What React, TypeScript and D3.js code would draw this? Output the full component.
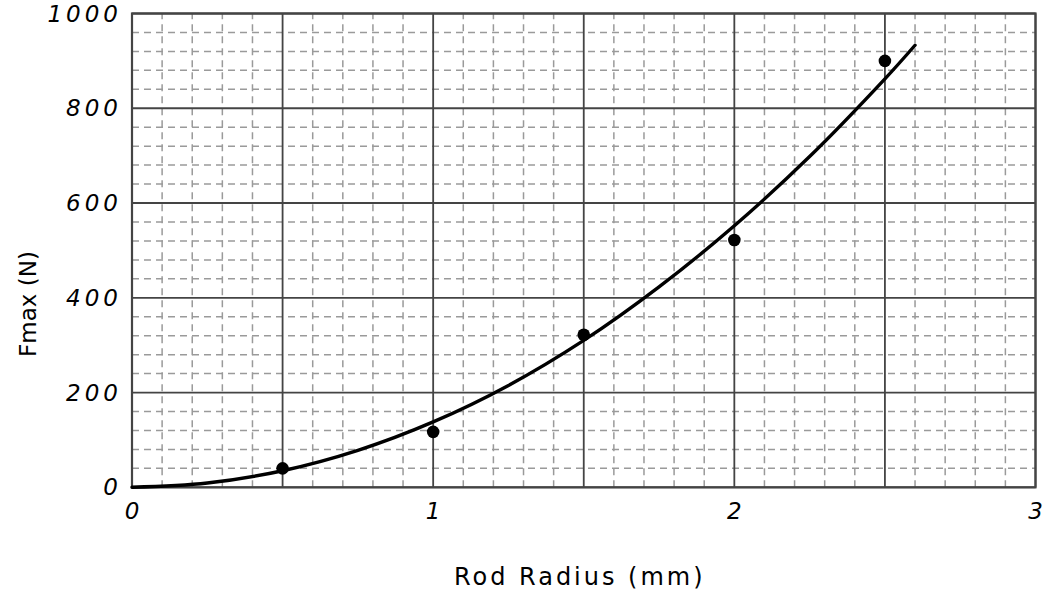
import React from "react";
import * as d3 from "d3";

const pointX = [0.5, 1.0, 1.5, 2.0, 2.5];
const pointY = [40, 117, 322, 522, 900];

const curveX = [0, 0.25, 0.5, 0.75, 1.0, 1.25, 1.5, 1.75, 2.0, 2.25, 2.5, 2.6];
const curveY = [0, 9, 35, 78, 138, 215, 310, 423, 552, 698, 862, 933];

const xTicks = [0, 1, 2, 3];
const yTicks = [0, 200, 400, 600, 800, 1000];

const xLabel = "Rod Radius (mm)";
const yLabel = "Fmax (N)";

const W = 1045, H = 590;
const M = { left: 132, right: 1035.5, top: 13.5, bottom: 487.3 };
const FONT = "'Humor Sans', 'Comic Sans MS', 'DejaVu Sans', sans-serif";

export default function App() {
  const x = d3.scaleLinear().domain([0, 3]).range([M.left, M.right]);
  const y = d3.scaleLinear().domain([0, 1000]).range([M.bottom, M.top]);

  const minorX = d3.range(0, 31).map((i) => i / 10).filter((v) => Math.round(v * 10) % 5 !== 0);
  const majorX = d3.range(0, 7).map((i) => i * 0.5);
  const minorY = d3.range(0, 26).map((i) => i * 40).filter((v) => v % 200 !== 0);
  const majorY = d3.range(0, 6).map((i) => i * 200);

  const line = d3
    .line<number>()
    .x((_, i) => x(curveX[i]))
    .y((d) => y(d))
    .curve(d3.curveCatmullRom.alpha(0.5));

  return (
    <svg width={W} height={H} style={{ position: "absolute", left: 0, top: 0, background: "#fff" }}>
      <g>
        {minorX.map((v) => (
          <line key={"mx" + v} x1={x(v)} x2={x(v)} y1={y(0)} y2={y(1000)} stroke="#9a9a9a" strokeWidth={1.5} strokeDasharray="7,5" />
        ))}
        {minorY.map((v) => (
          <line key={"my" + v} x1={x(0)} x2={x(3)} y1={y(v)} y2={y(v)} stroke="#9a9a9a" strokeWidth={1.5} strokeDasharray="7,5" />
        ))}
        {majorX.map((v) => (
          <line key={"Mx" + v} x1={x(v)} x2={x(v)} y1={y(0)} y2={y(1000)} stroke="#444" strokeWidth={1.8} />
        ))}
        {majorY.map((v) => (
          <line key={"My" + v} x1={x(0)} x2={x(3)} y1={y(v)} y2={y(v)} stroke="#444" strokeWidth={1.8} />
        ))}
        <rect x={x(0)} y={y(1000)} width={x(3) - x(0)} height={y(0) - y(1000)} fill="none" stroke="#444" strokeWidth={2.2} />
      </g>
      <path d={line(curveY) || ""} fill="none" stroke="#000" strokeWidth={3.4} strokeLinecap="round" />
      {pointX.map((v, i) => (
        <circle key={"p" + i} cx={x(v)} cy={y(pointY[i])} r={6.3} fill="#000" />
      ))}
      {yTicks.map((v) => (
        <text key={"yt" + v} x={x(0) - 10} y={y(v)} dy="0.35em" textAnchor="end" fontFamily={FONT} fontSize={23} fontStyle="italic" letterSpacing={4} fill="#000">
          {v}
        </text>
      ))}
      {xTicks.map((v) => (
        <text key={"xt" + v} x={x(v)} y={y(0) + 32} textAnchor="middle" fontFamily={FONT} fontSize={23} fontStyle="italic" fill="#000">
          {v}
        </text>
      ))}
      <text x={(x(0) + x(3)) / 2 - 4} y={585} textAnchor="middle" fontFamily={FONT} fontSize={24} letterSpacing={3} fill="#000">
        {xLabel}
      </text>
      <text transform={`translate(36, 304) rotate(-90)`} textAnchor="middle" fontFamily={FONT} fontSize={23} fill="#000">
        {yLabel}
      </text>
    </svg>
  );
}
